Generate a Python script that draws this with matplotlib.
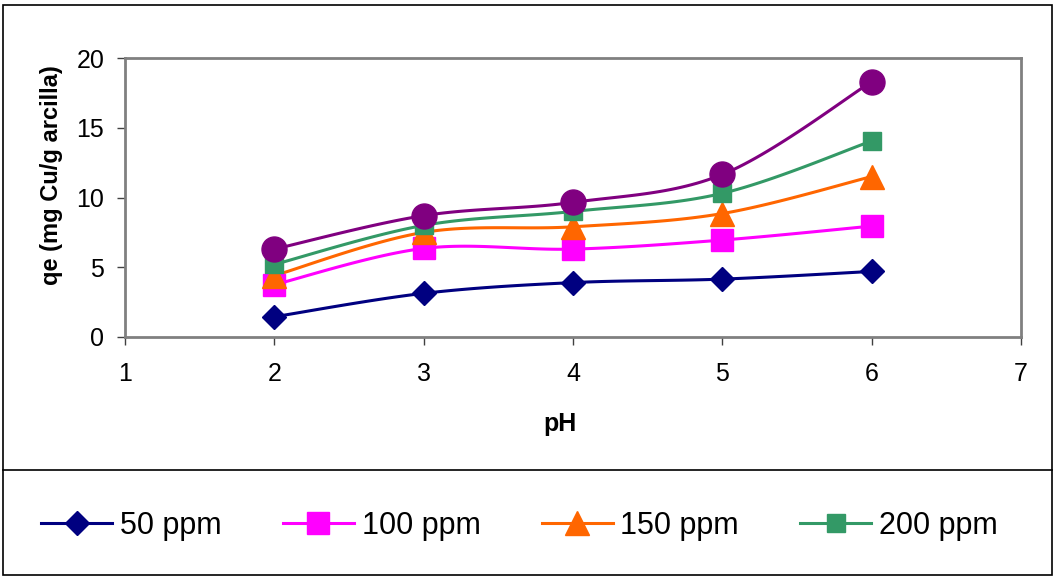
import matplotlib.pyplot as plt
import numpy as np
from matplotlib.lines import Line2D
from matplotlib.patches import Rectangle

plt.rcParams['font.family'] = ['Liberation Sans', 'DejaVu Sans']

ph = [2, 3, 4, 5, 6]
q_50 = [1.45, 3.13, 3.9, 4.15, 4.7]
q_100 = [3.75, 6.35, 6.3, 6.95, 7.95]
q_150 = [4.4, 7.5, 7.9, 8.85, 11.5]
q_200 = [5.2, 8.0, 9.0, 10.3, 14.05]
q_250 = [6.3, 8.7, 9.65, 11.65, 18.3]

series = [
    ('50 ppm', q_50, '#000080', 'D', 12),
    ('100 ppm', q_100, '#FF00FF', 's', 16),
    ('150 ppm', q_150, '#FF6600', '^', 17),
    ('200 ppm', q_200, '#339966', 's', 13),
    (None, q_250, '#800080', 'o', 18),
]


def smooth(x, y, n=30):
    # Excel-like smoothed line (Catmull-Rom through the data points)
    x = np.asarray(x, float)
    y = np.asarray(y, float)
    px = np.concatenate([[x[0]], x, [x[-1]]])
    py = np.concatenate([[y[0]], y, [y[-1]]])
    xs, ys = [], []
    t = np.linspace(0, 1, n)
    for i in range(1, len(px) - 2):
        for p, out in ((px, xs), (py, ys)):
            p0, p1, p2, p3 = p[i - 1], p[i], p[i + 1], p[i + 2]
            out.extend(0.5 * (2 * p1 + (-p0 + p2) * t
                              + (2 * p0 - 5 * p1 + 4 * p2 - p3) * t ** 2
                              + (-p0 + 3 * p1 - 3 * p2 + p3) * t ** 3))
    return xs, ys


fig = plt.figure(figsize=(10.56, 5.78), dpi=100)
ax = fig.add_axes([125 / 1056, 1 - 337 / 578, 896 / 1056, 279 / 578])

handles = []
for label, ys, color, marker, ms in series:
    sx, sy = smooth(ph, ys)
    ax.plot(sx, sy, color=color, lw=2.2, zorder=2)
    ax.plot(ph, ys, ls='none', marker=marker, ms=ms, color=color,
            mec=color, zorder=3)
    if label:
        handles.append(Line2D([], [], color=color, lw=2.2, marker=marker,
                              ms=ms, label=label))

ax.set_xlim(1, 7)
ax.set_ylim(0, 20)
ax.set_xticks(range(1, 8))
ax.set_yticks(range(0, 21, 5))
for s in ax.spines.values():
    s.set_color('#808080')
    s.set_linewidth(2)
ax.tick_params(labelsize=18, length=6, width=1, color='#404040')
ax.tick_params(axis='x', pad=12)
ax.tick_params(axis='y', pad=9)
ax.set_xlabel('pH', fontsize=18, fontweight='bold')
ax.set_ylabel('qe (mg Cu/g arcilla)', fontsize=17, fontweight='bold')
ax.xaxis.set_label_coords(0.4855, -0.27)
ax.yaxis.set_label_coords(-0.069, 0.58)

fig.legend(handles=handles, loc='center left',
           bbox_to_anchor=(26 / 1056, 1 - 526 / 578),
           ncol=4, frameon=False, fontsize=22, borderpad=0,
           handlelength=2.32, handletextpad=0.26, columnspacing=2.0)

fig.add_artist(Rectangle((3 / 1056, 3 / 578), 1049 / 1056, 570 / 578,
                         transform=fig.transFigure, fill=False,
                         ec='black', lw=1.2))
fig.add_artist(Line2D([3 / 1056, 1052 / 1056], [1 - 470 / 578, 1 - 470 / 578],
                      transform=fig.transFigure, color='black', lw=1.2))

fig.savefig('out.png', dpi=100)
